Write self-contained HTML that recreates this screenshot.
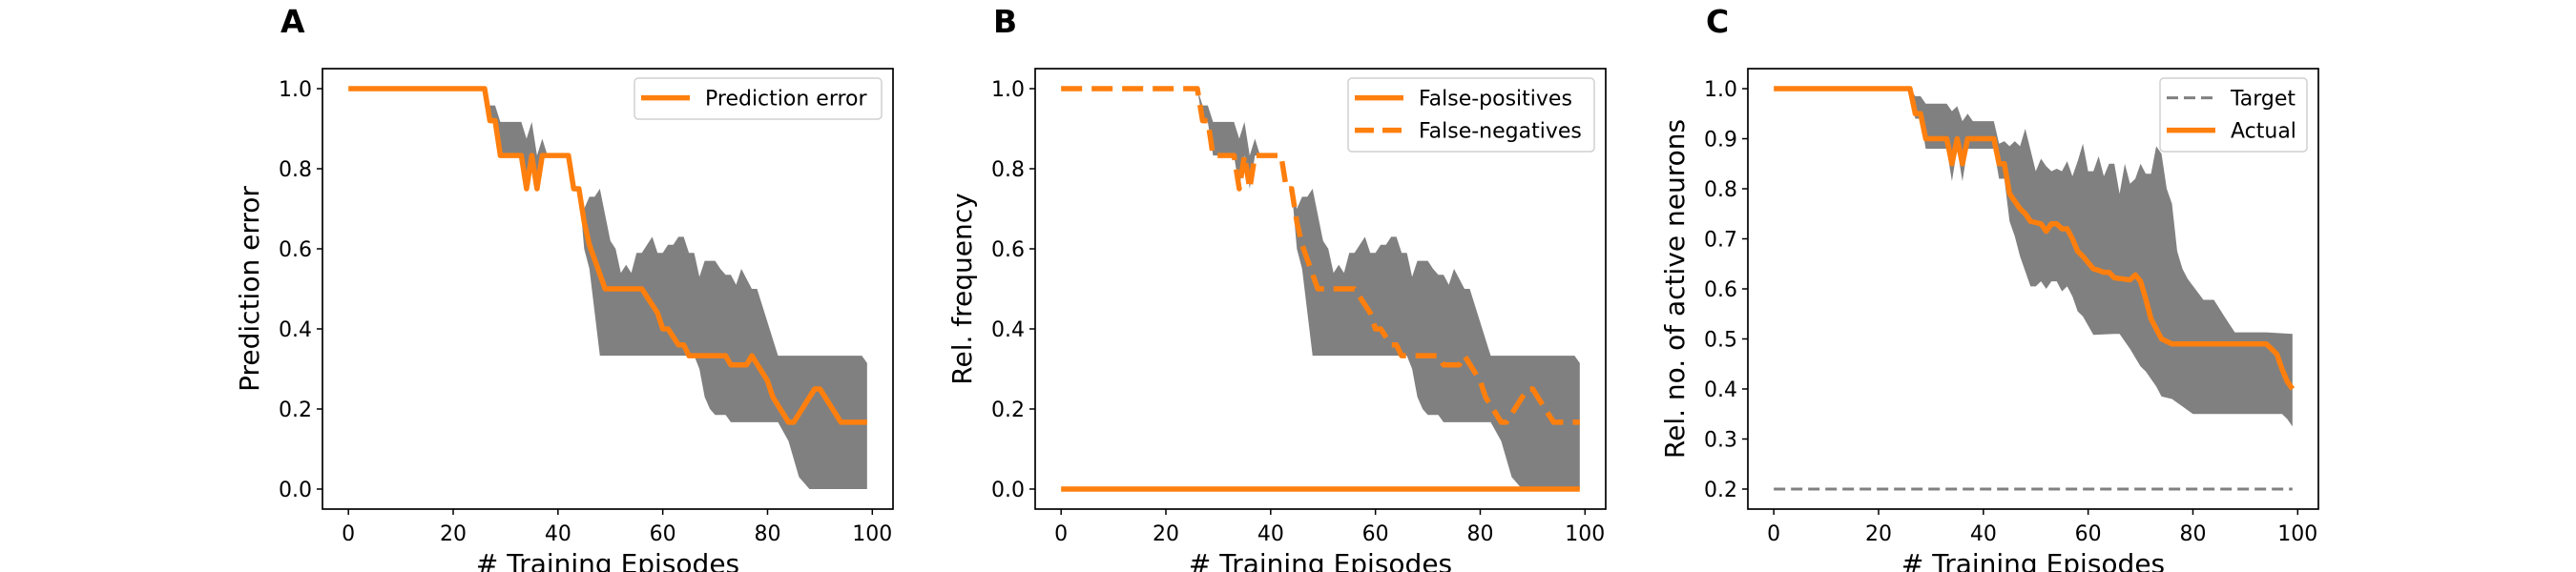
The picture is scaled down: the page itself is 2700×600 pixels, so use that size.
<!DOCTYPE html>
<html><head><meta charset="utf-8"><style>
html,body{margin:0;padding:0;background:#fff;}
svg{display:block;font-family:"DejaVu Sans","Liberation Sans",sans-serif;}
</style></head><body>
<svg id="fig" width="2700" height="600" viewBox="0 0 2700 600" xmlns="http://www.w3.org/2000/svg"></svg>
<script>
// ---- data (breakpoints) ----
const epX_A_mean = [0,26,27,28,29,33,34,35,36,37,42,43,44,45,46,49,56,59,60,61,63,64,65,72,73,76,77,80,81,84,85,89,90,94,99];
const epY_A_mean = [1,1,.92,.92,.833,.833,.75,.833,.75,.833,.833,.75,.75,.667,.61,.5,.5,.44,.4,.4,.36,.36,.333,.333,.31,.31,.333,.27,.23,.167,.167,.25,.25,.167,.167];
const epX_A_up = [0,26,27,28,29,33,34,35,36,37,38,42,43,44,45,46,47,48,50,51,52,53,54,55,56,58,59,60,61,62,63,64,65,66,67,68,70,71,72,73,74,75,77,78,82,98,99];
const epY_A_up = [1,1,.958,.958,.917,.917,.875,.917,.833,.875,.833,.833,.75,.75,.70,.73,.73,.75,.62,.6,.54,.56,.54,.59,.59,.63,.59,.59,.61,.61,.63,.63,.59,.59,.53,.57,.57,.55,.535,.535,.51,.55,.5,.5,.333,.333,.315];
const epX_A_lo = [0,26,27,28,29,33,34,35,36,37,42,43,44,45,46,48,66,67,68,69,70,72,73,82,84,86,88,99];
const epY_A_lo = [1,1,.917,.917,.833,.833,.75,.833,.75,.833,.833,.75,.75,.6,.55,.333,.333,.3,.23,.2,.185,.185,.167,.167,.12,.03,0,0];
const epX_FP = [0,99];
const epY_FP = [0,0];
const epX_C_mean = [0,26,27,28,29,33,34,35,36,37,42,43,44,45,46,47,48,49,51,52,53,54,55,56,57,58,59,61,62,63,64,65,68,69,70,71,72,73,74,75,76,94,96,97,98,99];
const epY_C_mean = [1,1,.95,.95,.9,.9,.85,.9,.85,.9,.9,.85,.85,.79,.775,.76,.75,.735,.73,.715,.73,.73,.72,.72,.70,.675,.665,.64,.637,.633,.633,.622,.618,.628,.615,.58,.54,.52,.5,.495,.49,.49,.47,.44,.415,.40];
const epX_C_up = [0,26,27,28,29,33,34,35,36,37,38,42,43,44,45,46,47,48,50,51,52,53,54,55,56,57,58,59,60,61,62,63,64,65,66,67,68,69,70,71,72,73,74,75,76,77,78,79,82,84,86,88,94,99];
const epY_C_up = [1,1,.985,.985,.97,.97,.955,.965,.935,.95,.935,.935,.89,.895,.885,.895,.885,.92,.835,.86,.845,.835,.84,.835,.855,.825,.855,.89,.835,.835,.865,.825,.85,.85,.79,.85,.81,.82,.85,.83,.83,.885,.87,.8,.77,.675,.64,.62,.578,.578,.545,.513,.513,.51];
const epX_C_lo = [0,26,27,28,29,33,34,35,36,37,42,43,44,45,46,47,48,49,50,51,52,53,54,55,56,57,58,59,61,65,66,68,70,71,73,74,76,80,97,98,99];
const epY_C_lo = [1,1,.94,.94,.88,.88,.815,.88,.815,.88,.88,.82,.82,.735,.705,.665,.635,.605,.605,.615,.60,.615,.615,.595,.605,.585,.555,.545,.508,.51,.51,.48,.445,.435,.405,.385,.38,.35,.35,.34,.325];
const target = 0.2;
const xTicks = [0,20,40,60,80,100];
const yTicksAB = [0,0.2,0.4,0.6,0.8,1.0];
const yTicksC = [0.2,0.3,0.4,0.5,0.6,0.7,0.8,0.9,1.0];

const NS = "http://www.w3.org/2000/svg";
const svg = document.getElementById('fig');
function mk(tag, attrs, parent){const e=document.createElementNS(NS,tag);for(const k in attrs)e.setAttribute(k,attrs[k]);(parent||svg).appendChild(e);return e;}
const ORANGE = "#ff7f0e";

function panel(cfg){
  const L=cfg.left, R=L+598, T=72, B=534;
  const g = mk('g',{});
  
  
  const xs = v => L + (v + 4.95) / 108.9 * (R - L);
  const ys = v => B - (v - cfg.ymin) / (cfg.ymax - cfg.ymin) * (B - T);
  const path = (X,Y) => X.map((x,i)=>(i?'L':'M')+xs(x).toFixed(2)+','+ys(Y[i]).toFixed(2)).join(' ');
  if(cfg.band){
    const [ux,uy,lx,ly]=cfg.band;
    let d = path(ux,uy);
    for(let i=lx.length-1;i>=0;i--) d+=' L'+xs(lx[i]).toFixed(2)+','+ys(ly[i]).toFixed(2);
    const b = mk('path',{d:d+' Z',fill:'#808080',stroke:'none'},g);
    
    
  }
  cfg.series.forEach(s=>{
    let d;
    if(s.hline!==undefined){ d='M'+xs(0)+','+ys(s.hline)+' L'+xs(99)+','+ys(s.hline); }
    else d = path(s.x,s.y);
    const p = mk('path',{d:d,fill:'none',stroke:s.color,'stroke-width':s.w,'stroke-dasharray':s.dash||'none','stroke-linejoin':'round'},g);
    
    
  });
  const fr = mk('rect',{x:L,y:T,width:R-L,height:B-T,fill:'none',stroke:'#000','stroke-width':1.7},g);
  
  
  xTicks.forEach(t=>{
    const x=xs(t);
    mk('line',{x1:x,y1:B,x2:x,y2:B+6,stroke:'#000','stroke-width':1.5},g);
    const tx = mk('text',{x:x,y:567,'font-size':22,'text-anchor':'middle',fill:'#000'},g);
    tx.textContent = t;
    
    
  });
  cfg.yticks.forEach(t=>{
    const y=ys(t);
    mk('line',{x1:L-6,y1:y,x2:L,y2:y,stroke:'#000','stroke-width':1.5},g);
    const tx = mk('text',{x:L-11,y:y+8,'font-size':22,'text-anchor':'end',fill:'#000'},g);
    tx.textContent = t.toFixed(1);
    
    
  });
  const xl = mk('text',{x:(L+R)/2,y:601,'font-size':28,'text-anchor':'middle',fill:'#000'},g);
  xl.textContent = '# Training Episodes';
  
  
  const yl = mk('text',{x:0,y:0,'font-size':28,'text-anchor':'middle',fill:'#000',transform:`translate(${L-67},${(T+B)/2}) rotate(-90)`},g);
  yl.textContent = cfg.ylabel;
  
  
  const tl = mk('text',{x:L-44,y:34,'font-size':33,'font-weight':'bold',fill:'#000'},g);
  tl.textContent = cfg.title;
  
  
  const lg = mk('g',{},g);
  
  
  const lw = cfg.legendW, lx = R-12-lw, n=cfg.legend.length;
  mk('rect',{x:lx,y:82,width:lw,height:n===1?43:77,rx:4,fill:'#fff',stroke:'#d0d0d0','stroke-width':1.5},lg);
  cfg.legend.forEach((e,i)=>{
    const y=102.6+i*34;
    mk('line',{x1:lx+7,y1:y,x2:lx+58,y2:y,stroke:e.color,'stroke-width':e.w,'stroke-dasharray':e.dash||'none'},lg);
    const t = mk('text',{x:lx+74,y:y+8,'font-size':22,fill:'#000'},lg);
    t.textContent = e.label;
    
    
  });
}

panel({name:'panel-a',left:338,ymin:-0.05,ymax:1.05,yticks:yTicksAB,ylabel:'Prediction error',title:'A',
  band:[epX_A_up,epY_A_up,epX_A_lo,epY_A_lo],
  series:[{name:'prediction-error-line',x:epX_A_mean,y:epY_A_mean,color:ORANGE,w:5.5}],
  legendW:259,legend:[{label:'Prediction error',color:ORANGE,w:5.5}]});
panel({name:'panel-b',left:1085,ymin:-0.05,ymax:1.05,yticks:yTicksAB,ylabel:'Rel. frequency',title:'B',
  band:[epX_A_up,epY_A_up,epX_A_lo,epY_A_lo],
  series:[{name:'false-positives-line',x:epX_FP,y:epY_FP,color:ORANGE,w:5.5},
          {name:'false-negatives-line',x:epX_A_mean,y:epY_A_mean,color:ORANGE,w:5.5,dash:'22,10'}],
  legendW:258,legend:[{label:'False-positives',color:ORANGE,w:5.5},{label:'False-negatives',color:ORANGE,w:5.5,dash:'20,9'}]});
panel({name:'panel-c',left:1832,ymin:0.16,ymax:1.04,yticks:yTicksC,ylabel:'Rel. no. of active neurons',title:'C',
  band:[epX_C_up,epY_C_up,epX_C_lo,epY_C_lo],
  series:[{name:'target-line',hline:target,color:'#808080',w:3,dash:'12,6'},
          {name:'actual-line',x:epX_C_mean,y:epY_C_mean,color:ORANGE,w:5.5}],
  legendW:154,legend:[{label:'Target',color:'#808080',w:3,dash:'12,6'},{label:'Actual',color:ORANGE,w:5.5}]});
</script>
</body></html>
